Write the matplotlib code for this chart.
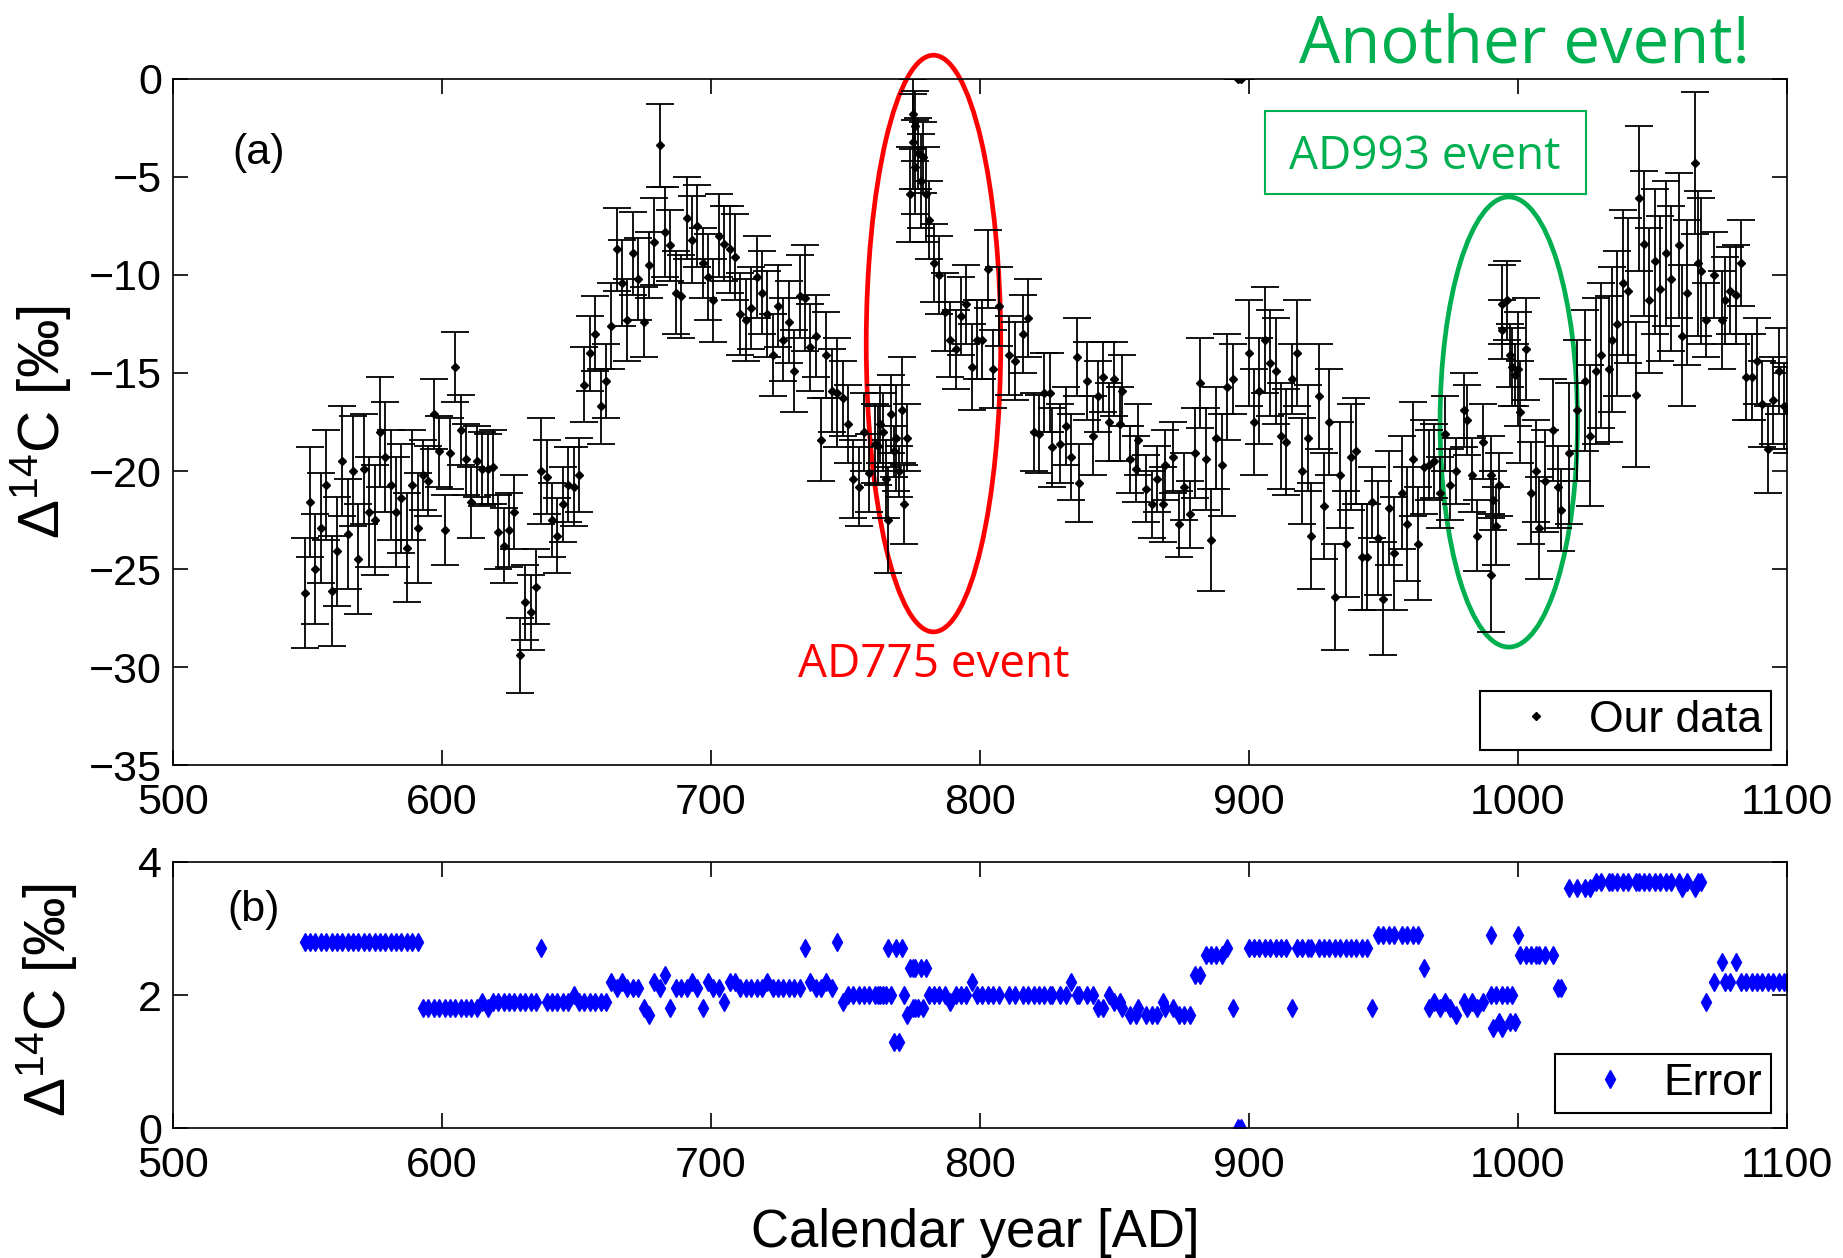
import matplotlib
matplotlib.use('Agg')
import matplotlib.pyplot as plt
from matplotlib.patches import Ellipse, Rectangle

# calendar year, Delta14C [permil], 1-sigma error [permil]
years = [
    549, 551, 553, 555, 557, 559, 561, 563, 565, 567, 569, 571, 573, 575, 577, 579, 581, 583, 585, 587, 589, 591,
    593, 595, 597, 599, 601, 603, 605, 607, 609, 611, 613, 615, 617, 619, 621, 623, 625, 627, 629, 631, 633, 635,
    637, 639, 641, 643, 645, 647, 649, 651, 653, 655, 657, 659, 661,
    663, 665, 667, 669, 671, 673, 675, 677, 679, 681, 683, 685, 687, 689, 691, 693, 695, 697, 699, 701, 703, 705,
    707, 709, 711, 713, 715, 717, 719, 721, 723, 725, 727, 729, 731, 733, 735, 737, 739, 741, 743, 745, 747, 749,
    751, 753, 755, 757, 759, 761,
    762, 763, 764, 765, 766, 767, 768, 769, 770, 771, 772, 773, 774, 775, 775, 776, 776, 777, 778, 779, 780, 781,
    783, 785, 787, 789, 791, 793, 795, 797, 799, 801, 803, 805, 807,
    811, 813, 816, 818, 820, 822, 824, 826, 827, 830, 832, 834, 836, 837, 840, 842, 844, 846, 848, 850, 852, 853,
    856, 858, 859, 862, 864, 866, 868, 869, 872, 874, 876, 878, 880, 882, 884, 886, 888, 890, 892, 894, 896, 897,
    900, 902, 904, 906, 908, 910, 912, 914, 916, 918, 920, 922, 923, 926, 928, 930, 932, 934, 936, 938, 940, 942,
    944, 946, 948, 950, 952, 954, 957, 959, 961, 963, 965, 967, 969, 971, 973, 975, 977, 980, 981, 983, 985, 987,
    990, 990, 991, 992, 993, 994, 994, 996, 997, 998, 999, 1000, 1001, 1003, 1005, 1007, 1008, 1010, 1013, 1015, 1016,
    1019, 1022, 1025, 1027, 1029, 1031, 1034, 1035, 1037, 1039, 1041, 1044, 1045, 1047, 1049, 1051, 1053, 1055,
    1057, 1060, 1061, 1063, 1066, 1067, 1068, 1070, 1073, 1076, 1077, 1079, 1081, 1083, 1085, 1087, 1089, 1091,
    1093, 1095, 1097, 1099, 1100,
]
d14c = [
    -26.2, -21.6, -25.0, -22.9, -20.7, -26.1, -24.1, -19.5, -23.2, -20.0, -24.5, -19.9, -22.1, -22.5, -18.0, -19.3,
    -20.7, -22.1, -21.4, -23.9, -20.7, -22.9,
    -20.2, -20.5, -17.1, -19.0, -23.0, -19.1, -14.7, -17.9, -19.4, -21.6, -19.5, -19.9, -19.9, -19.8, -23.1, -23.8,
    -23.0, -22.1, -29.4, -26.7, -27.2, -25.9, -20.0, -20.3, -22.5, -23.3, -21.7, -20.7, -20.8, -20.2, -15.6, -14.0,
    -13.0, -16.7, -15.4,
    -12.6, -8.7, -10.4, -12.3, -8.9, -10.2, -12.4, -9.5, -8.3, -3.4, -7.8, -8.5, -10.9, -11.1, -7.1, -8.2, -7.5,
    -9.4, -10.1, -11.3, -8.0, -8.4, -8.7, -9.1, -12.0, -12.3, -11.7, -10.1, -10.9, -12.0, -14.1, -11.6, -13.3,
    -12.4, -14.9, -11.1, -11.2, -13.7, -13.1, -18.4, -14.1, -15.9, -16.0, -16.3, -17.6, -20.4, -20.8, -18.0, -20.1,
    -18.6,
    -18.7, -17.6, -18.0, -20.4, -22.5, -17.1, -19.0, -18.3, -20.0, -16.9, -21.7, -18.3, -5.9, -1.8, -3.2, -2.4,
    -4.5, -3.8, -5.2, -4.0, -5.9, -7.2,
    -9.4, -10.0, -11.9, -13.3, -13.8, -12.1, -11.5, -14.7, -13.3, -13.3, -9.7, -14.8, -11.6,
    -14.1, -14.4, -13.0, -12.2, -18.0, -18.1, -16.0, -16.0, -18.8, -18.6, -17.7, -19.3, -14.2, -20.6, -15.4, -18.2,
    -16.2, -15.2, -17.5, -15.3, -17.6, -15.9, -19.4, -19.9, -18.4, -20.9, -21.7, -20.4, -21.7, -19.7, -19.3, -22.7,
    -20.8, -22.2, -19.1, -15.5, -19.4, -23.5, -18.3, -19.7, -15.7, -15.3, 0.0, 0.0,
    -14.0, -17.5, -15.9, -13.3, -14.5, -14.9, -18.2, -18.5, -15.3, -14.0, -20.0, -18.3, -23.3, -16.2, -21.8, -17.5,
    -26.4, -20.2, -23.7, -19.3, -19.0, -24.4, -24.4, -21.6, -23.4, -26.5, -21.9, -24.2, -21.1, -22.7, -19.4, -23.7,
    -19.8, -19.7, -19.5, -21.1, -18.1, -20.7, -20.0, -16.9, -17.4, -20.2, -23.3, -18.5,
    -20.2, -25.3, -21.5, -22.8, -20.7, -11.5, -12.8, -11.3, -14.1, -14.7, -15.1, -14.8, -17.0, -13.8, -21.1, -20.0,
    -22.9, -20.5, -17.9, -20.8, -22.0,
    -19.1, -16.9, -15.4, -18.2, -14.9, -14.1, -14.8, -13.3, -12.5, -10.4, -10.8, -16.1, -6.1, -8.4, -11.3, -9.3,
    -10.7, -8.9, -10.2, -8.5, -13.1, -10.9, -4.3, -9.4, -9.8, -12.3, -10.0, -12.3, -11.3, -10.8, -11.0, -9.4,
    -15.2, -15.2, -14.4, -16.6, -18.9, -16.4, -14.9, -16.7, -16.9,
]
err = [
    2.8, 2.8, 2.8, 2.8, 2.8, 2.8, 2.8, 2.8, 2.8, 2.8, 2.8, 2.8, 2.8, 2.8, 2.8, 2.8, 2.8, 2.8, 2.8, 2.8, 2.8, 2.8,
    1.8, 1.8, 1.8, 1.8, 1.8, 1.8, 1.8, 1.8, 1.8, 1.8, 1.8, 1.9, 1.8, 1.9, 1.9, 1.9, 1.9, 1.9, 1.9, 1.9, 1.9, 1.9,
    2.7, 1.9, 1.9, 1.9, 1.9, 1.9, 2.0, 1.9, 1.9, 1.9, 1.9, 1.9, 1.9,
    2.2, 2.1, 2.2, 2.1, 2.1, 2.1, 1.8, 1.7, 2.2, 2.1, 2.3, 1.8, 2.1, 2.1, 2.1, 2.2, 2.1, 1.8, 2.2, 2.1, 2.1, 1.9,
    2.2, 2.2, 2.1, 2.1, 2.1, 2.1, 2.1, 2.2, 2.1, 2.1, 2.1, 2.1, 2.1, 2.1, 2.7, 2.2, 2.1, 2.1, 2.2, 2.1, 2.8, 1.9,
    2.0, 2.0, 2.0, 2.0, 2.0, 2.0,
    2.0, 2.0, 2.0, 2.0, 2.7, 2.0, 1.3, 2.7, 1.3, 2.7, 2.0, 1.7, 2.4, 1.8, 2.4, 1.8, 2.4, 1.8, 2.4, 1.8, 2.4, 2.0,
    2.0, 2.0, 2.0, 1.9, 2.0, 2.0, 2.0, 2.2, 2.0, 2.0, 2.0, 2.0, 2.0,
    2.0, 2.0, 2.0, 2.0, 2.0, 2.0, 2.0, 2.0, 2.0, 2.0, 2.0, 2.2, 2.0, 2.0, 2.0, 2.0, 1.8, 1.8, 2.0, 1.9, 1.9, 1.8,
    1.7, 1.7, 1.8, 1.7, 1.7, 1.7, 1.9, 1.8, 1.8, 1.7, 1.7, 1.7, 2.3, 2.3, 2.6, 2.6, 2.6, 2.6, 2.7, 1.8, 0.0, 0.0,
    2.7, 2.7, 2.7, 2.7, 2.7, 2.7, 2.7, 2.7, 1.8, 2.7, 2.7, 2.7, 2.7, 2.7, 2.7, 2.7, 2.7, 2.7, 2.7, 2.7, 2.7, 2.7,
    2.7, 1.8, 2.9, 2.9, 2.9, 2.9, 2.9, 2.9, 2.9, 2.9, 2.4, 1.8, 1.9, 1.8, 1.9, 1.8, 1.7, 1.9, 1.8, 1.9, 1.8, 1.9,
    2.0, 2.9, 1.5, 2.0, 1.6, 2.0, 1.5, 2.0, 1.6, 2.0, 1.6, 2.9, 2.6, 2.6, 2.6, 2.6, 2.6, 2.6, 2.6, 2.1, 2.1,
    3.6, 3.6, 3.6, 3.6, 3.7, 3.7, 3.7, 3.7, 3.7, 3.7, 3.7, 3.7, 3.7, 3.7, 3.7, 3.7, 3.7, 3.7,
    3.7, 3.7, 3.6, 3.7, 3.6, 3.7, 3.7, 1.9, 2.2, 2.5, 2.2, 2.2, 2.5, 2.2, 2.2, 2.2, 2.2, 2.2,
    2.2, 2.2, 2.2, 2.2, 2.2,
]

green = '#00B050'
plt.rcParams['font.family'] = ['Liberation Sans', 'DejaVu Sans']
plt.rcParams['mathtext.default'] = 'regular'

fig = plt.figure(figsize=(18.43, 12.58), dpi=100)
ax1 = fig.add_axes([0.0938, 0.3917, 0.8756, 0.5457])
ax2 = fig.add_axes([0.0938, 0.1030, 0.8756, 0.2121])

# (a) Delta14C with error bars; legend shows the marker only
ax1.errorbar(years, d14c, yerr=err, fmt='D', color='k', ms=4.5, elinewidth=1.3,
             capsize=10, capthick=1.3)
ax1.plot([], [], 'D', color='k', ms=4.5, label='Our data')
ax1.set_xlim(500, 1100)
ax1.set_ylim(-35, 0)
ax1.set_xticks(range(500, 1101, 100))
ax1.set_yticks(range(-35, 1, 5))
ax1.set_ylabel('Δ$^{14}$C [‰]', fontsize=42)
ax1.yaxis.set_label_coords(-0.062, 0.5)
ax1.text(531.7, -3.8, '(a)', fontsize=31, ha='center', va='center')

# (b) measurement errors
ax2.plot(years, err, 'd', color='#0000FF', ms=9, ls='none', label='Error')
ax2.set_xlim(500, 1100)
ax2.set_ylim(0, 4)
ax2.set_xticks(range(500, 1101, 100))
ax2.set_yticks([0, 2, 4])
ax2.set_ylabel('Δ$^{14}$C [‰]', fontsize=42)
ax2.yaxis.set_label_coords(-0.058, 0.48)
ax2.set_xlabel('Calendar year [AD]', fontsize=38)
ax2.xaxis.set_label_coords(0.497, -0.30)
ax2.text(529.9, 3.28, '(b)', fontsize=31, ha='center', va='center')

for ax in (ax1, ax2):
    ax.tick_params(direction='in', length=11, width=1.2, top=True, right=True,
                   labelsize=31)
    ax.tick_params(axis='x', pad=13)
    ax.tick_params(axis='y', pad=8)
    for s in ax.spines.values():
        s.set_linewidth(1.2)
    leg = ax.legend(loc='lower right', fontsize=32, fancybox=False, edgecolor='k',
                    framealpha=1, borderpad=0.2, handlelength=2.1, handletextpad=0.15,
                    borderaxespad=0.35)
    leg.get_frame().set_linewidth(1.5)

# event annotations
ax1.add_patch(Ellipse((782.8, -13.5), 50, 29.4, fill=False, ec='red', lw=3.4, clip_on=False))
ax1.text(783, -29.9, 'AD775 event', color='red', fontsize=33, ha='center', va='center',
         family='Open Sans')
ax1.add_patch(Ellipse((996.7, -17.5), 51.1, 22.95, fill=False, ec=green, lw=3.4, clip_on=False))
ax1.add_patch(Rectangle((906, -5.88), 119.4, 4.26, fill=False, ec=green, lw=1.5))
ax1.text(965.5, -4.0, 'AD993 event', color=green, fontsize=33, ha='center', va='center',
         family='Open Sans')
fig.text(0.827, 0.964, 'Another event!', color=green, fontsize=47, ha='center', va='center',
         family='Open Sans')

fig.savefig('out.png', dpi=100)
plt.close(fig)
